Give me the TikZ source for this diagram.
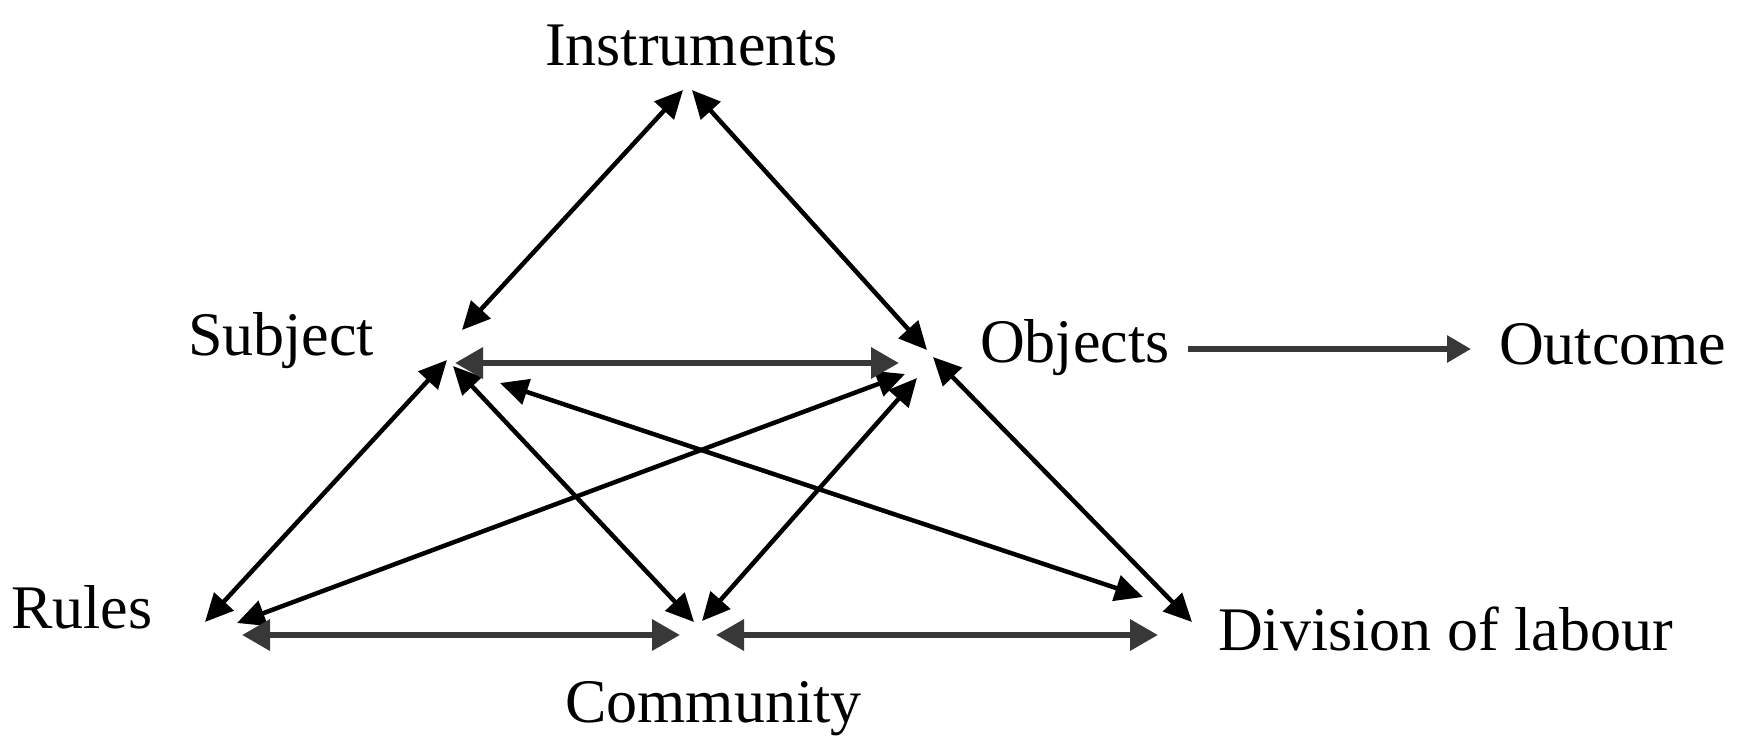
\documentclass[tikz,border=0pt]{standalone}
\usepackage{fontspec}
\setmainfont{Liberation Serif}
\usetikzlibrary{arrows.meta}
\begin{document}
\begin{tikzpicture}[x=1pt,y=-1pt,
  lbl/.style={anchor=base west,inner sep=0pt,font=\fontsize{62}{70}\selectfont},
  diag/.style={draw=black,line width=4.5pt,{Triangle[length=28pt,width=26pt]}-{Triangle[length=28pt,width=26pt]}},
  horiz/.style={draw=black!78,line width=6.5pt,{Triangle[length=28pt,width=30pt]}-{Triangle[length=28pt,width=30pt]}},
  single/.style={draw=black!78,line width=6.5pt,-{Triangle[length=24pt,width=26pt]}}]
\useasboundingbox (0,0) rectangle (1741,745);
% labels
\node[lbl] (instr) at (545,65) {Instruments};
\node[lbl] (subj) at (188,355) {Subject};
\node[lbl] (obj) at (980,362) {Objects};
\node[lbl] (outc) at (1499,364) {Outcome};
\node[lbl] (rules) at (11,628) {Rules};
\node[lbl] (comm) at (565,722) {Community};
\node[lbl] (div) at (1218,650) {Division of labour};
% connector end points
\coordinate (IS) at (683,90);
\coordinate (IO) at (692,90);
\coordinate (SI) at (462,330);
\coordinate (SO) at (455,363);
\coordinate (SR) at (447,360);
\coordinate (SC) at (453,366);
\coordinate (SD) at (500,383);
\coordinate (OI) at (927,350);
\coordinate (OS) at (899,363);
\coordinate (OR) at (905,374);
\coordinate (OC) at (917,378);
\coordinate (OD) at (933,357);
\coordinate (OU) at (1188,349);
\coordinate (UO) at (1471,349);
\coordinate (RS) at (205,622);
\coordinate (RO) at (237,623);
\coordinate (RC) at (242,635);
\coordinate (CR) at (680,635);
\coordinate (CS) at (694,622);
\coordinate (CO) at (702,621);
\coordinate (CD) at (716,635);
\coordinate (DC) at (1158,635);
\coordinate (DS) at (1143,597);
\coordinate (DO) at (1192,622);
% connectors
\draw[diag] (IS) -- (SI);
\draw[diag] (IO) -- (OI);
\draw[diag] (SR) -- (RS);
\draw[diag] (SC) -- (CS);
\draw[diag] (SD) -- (DS);
\draw[diag] (OR) -- (RO);
\draw[diag] (OC) -- (CO);
\draw[diag] (OD) -- (DO);
\draw[horiz] (SO) -- (OS);
\draw[horiz] (RC) -- (CR);
\draw[horiz] (CD) -- (DC);
\draw[single] (OU) -- (UO);
\end{tikzpicture}
\end{document}
